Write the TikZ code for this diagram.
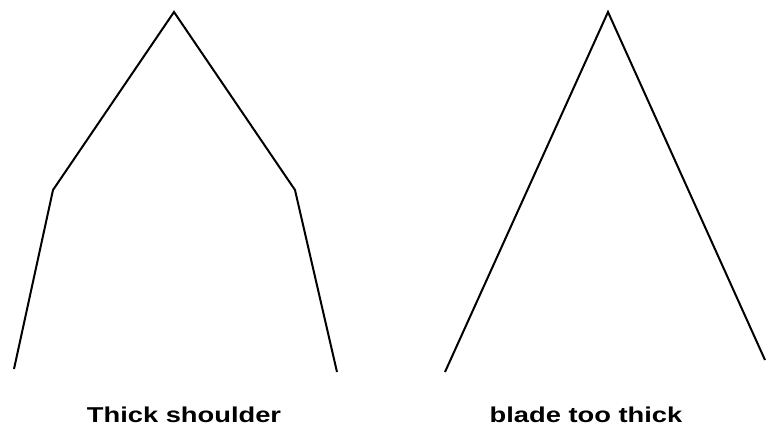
\documentclass[tikz,border=0pt]{standalone}
\usepackage{fontspec}
\setmainfont{Liberation Sans}
\begin{document}
\begin{tikzpicture}[x=1pt,y=-1pt,
  edge/.style={draw=black,line width=2pt,line join=miter},
  caption/.style={anchor=base,inner sep=0pt,font=\bfseries\fontsize{21.5}{25}\selectfont,xscale=1.27}]
\useasboundingbox[fill=white] (0,0) rectangle (766,430);
% Thick shoulder
\coordinate (a1) at (14,369);
\coordinate (a2) at (53,190);
\coordinate (a3) at (174,12);
\coordinate (a4) at (295,190);
\coordinate (a5) at (337,372);
\draw[edge] (a1) -- (a2) -- (a3) -- (a4) -- (a5);
% blade too thick
\coordinate (b1) at (445,372);
\coordinate (b2) at (608,12);
\coordinate (b3) at (765,360);
\draw[edge] (b1) -- (b2) -- (b3);
\node[caption] (t1) at (184,422) {Thick shoulder};
\node[caption] (t2) at (586,422) {blade too thick};
\end{tikzpicture}
\end{document}
